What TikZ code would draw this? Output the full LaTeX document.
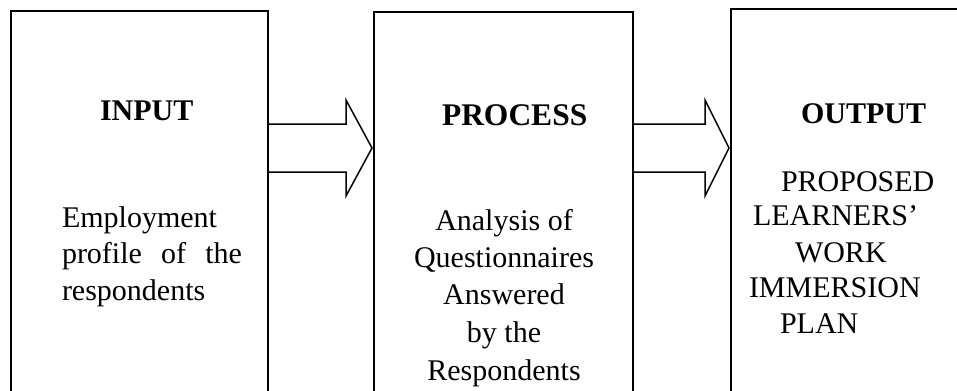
\documentclass[tikz,border=0pt]{standalone}
\usepackage{fontspec}
\setmainfont{Liberation Serif}
\begin{document}
\begin{tikzpicture}[x=1bp,y=-1bp,
  box/.style={draw=black, line width=1.5bp, rectangle, inner sep=0pt, outer sep=0pt, anchor=north west},
  blockarrow/.style={draw=black, line width=1.5bp, line join=miter},
  txt/.style={inner sep=0pt, outer sep=0pt, anchor=base west, font=\fontsize{30bp}{36bp}\selectfont},
  ctxt/.style={inner sep=0pt, outer sep=0pt, anchor=base, font=\fontsize{30bp}{36bp}\selectfont},
  head/.style={inner sep=0pt, outer sep=0pt, anchor=base west, font=\fontsize{30bp}{36bp}\selectfont\bfseries}]
\useasboundingbox (0,0) rectangle (957,390);
\clip (0,0) rectangle (957,390);
\fill[white] (0,0) rectangle (957,390);
% boxes
\node[box, minimum width=257bp, minimum height=400bp] (in) at (11,11) {};
\node[box, minimum width=259bp, minimum height=400bp] (pr) at (374,12) {};
\node[box, minimum width=300bp, minimum height=400bp] (out) at (731,9) {};
% arrows
\draw[blockarrow] (in.east |- 0,124) -- (346,124) -- (346,100) -- (372,148)
  -- (346,196) -- (346,172) -- (in.east |- 0,172);
\draw[blockarrow] (pr.east |- 0,124) -- (705,124) -- (705,100) -- (729,148)
  -- (705,196) -- (705,172) -- (pr.east |- 0,172);
% INPUT
\node[head] (inh) at (100,120) {INPUT};
\node[txt] (in1) at (62,227) {Employment};
\node[txt] (in2) at (62,263) {\makebox[180bp][s]{profile of the}};
\node[txt] (in3) at (62,300) {respondents};
% PROCESS
\node[head, font=\fontsize{31.5bp}{36bp}\selectfont\bfseries] (prh) at (442,125) {PROCESS};
\node[ctxt] (pr1) at (504,230) {Analysis of};
\node[ctxt] (pr2) at (504,267) {Questionnaires};
\node[ctxt] (pr3) at (504,304) {Answered};
\node[ctxt] (pr4) at (504,342) {by the};
\node[ctxt] (pr5) at (504,380) {Respondents};
% OUTPUT
\node[head] (outh) at (801,123) {OUTPUT};
\node[txt] (o1) at (781,191) {PROPOSED};
\node[txt] (o2) at (753,225) {LEARNERS’};
\node[txt] (o3) at (795,262) {WORK};
\node[txt] (o4) at (749,297) {IMMERSION};
\node[txt] (o5) at (780,333) {PLAN};
\end{tikzpicture}
\end{document}
